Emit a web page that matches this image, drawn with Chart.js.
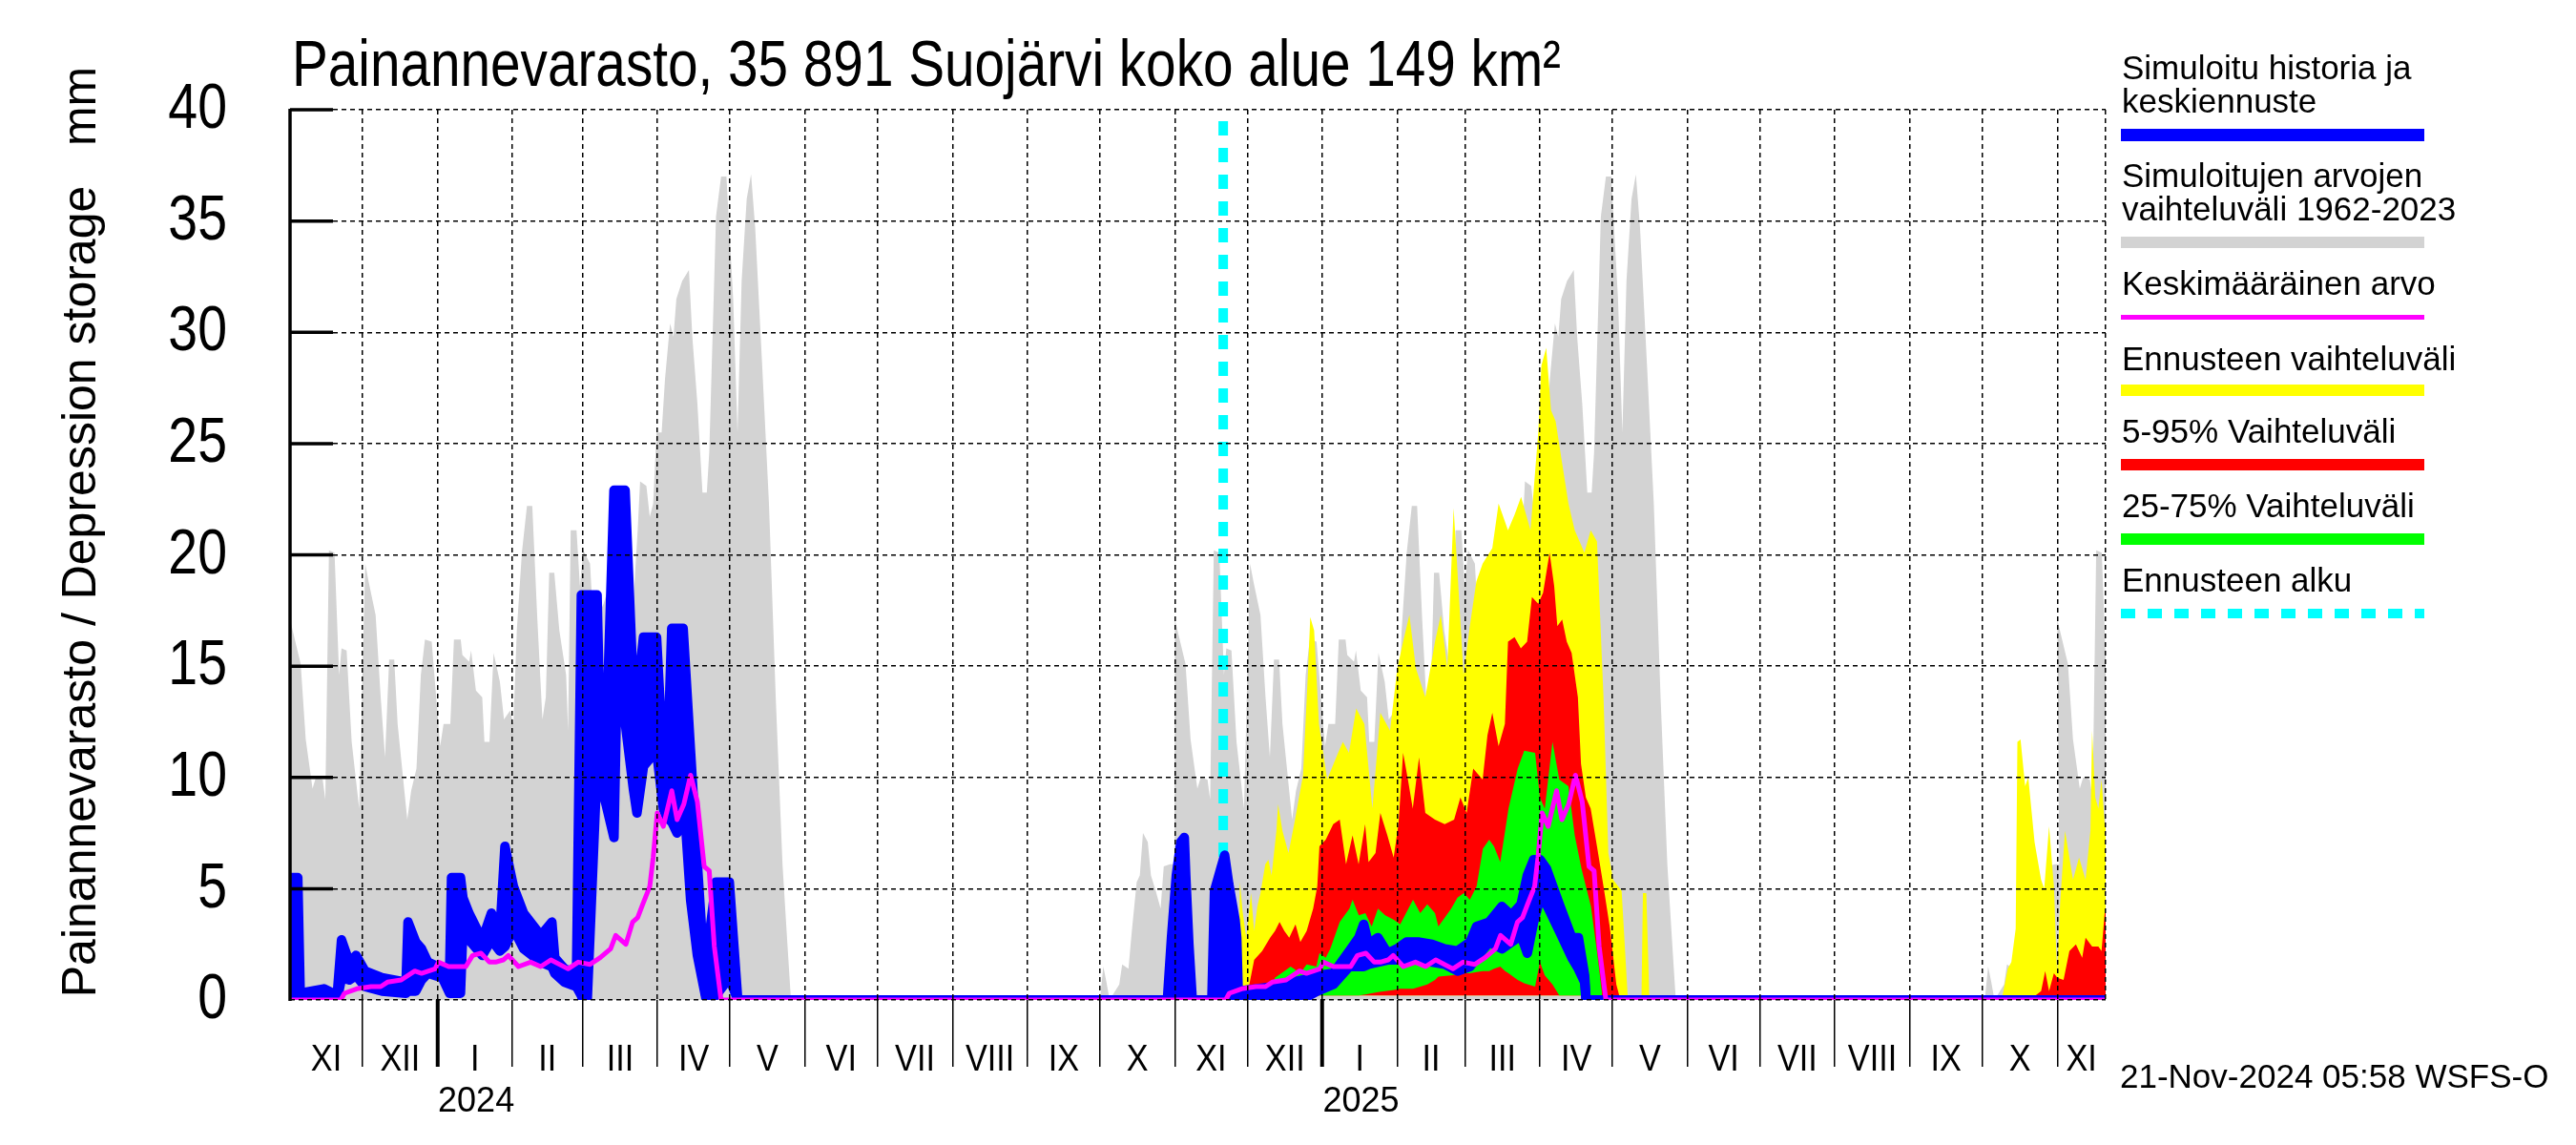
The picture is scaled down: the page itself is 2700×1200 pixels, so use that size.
<!DOCTYPE html>
<html>
<head>
<meta charset="utf-8">
<script src="https://cdn.jsdelivr.net/npm/chart.js@4.4.1/dist/chart.umd.min.js"></script>
<style>
  html, body { margin: 0; padding: 0; background: #fff; }
  canvas { display: block; }
</style>
</head>
<body>
<canvas id="chart" width="2700" height="1200" style="width:2700px;height:1200px"></canvas>
<script>
// x values are days counted from 1 Nov 2023
const monthLabels = ['XI','XII','I','II','III','IV','V','VI','VII','VIII','IX','X',
                     'XI','XII','I','II','III','IV','V','VI','VII','VIII','IX','X','XI'];
const yearLabels = ['2024', '2025'];
const axisEndDay = 751;
const forecastStartDay = 386;
const seasonStarts = [0, 366, 731];   // 1 Nov 2023, 1 Nov 2024, 1 Nov 2025

// simulated range 1962-2023 (upper edge), by day of season
const grayDays = [0, 4.4, 6.5, 9.3, 10.7, 13.5, 14.6, 16.1, 18.4, 20.3,
  21.3, 23.4, 25.5, 28.6, 31.1, 32.5, 35.4, 37.5, 39.3, 41.0,
  43.1, 44.5, 48.5, 50.1, 52.3, 54.1, 55.8, 58.6, 59.7, 62.1,
  63.5, 66.3, 67.8, 70.6, 71.3, 74.1, 74.9, 76.9, 79.5, 80.4,
  82.5, 84.2, 86.8, 88.5, 91.0, 92.4, 93.8, 95.9, 98.0, 100.2,
  102.3, 104.4, 105.8, 107.2, 109.3, 111.4, 114.2, 115.0, 116.1, 118.5,
  119.9, 121.3, 124.1, 125.5, 129.7, 131.9, 136.0, 141.7, 143.8, 144.8,
  147.4, 148.8, 150.2, 151.6, 153.7, 155.1, 157.2, 158.6, 159.8, 162.2,
  165.0, 166.4, 168.5, 170.6, 172.4, 173.4, 176.2, 178.3, 180.5, 183.3,
  185.1, 186.8, 188.9, 190.7, 192.4, 195.3, 198.1, 200.9, 203.7, 205.8,
  207.2,
  335.0, 336.4, 337.7, 339.0, 343.0, 344.2, 346.8, 348.2, 350.2, 351.5,
  352.8, 354.8, 356.1, 358.1, 360.1, 361.4, 364.0, 365.8];
const grayTop = [17.1, 15.1, 11.7, 9.5, 10.0, 9.9, 9.0, 20.2, 20.1, 14.6,
  15.8, 15.7, 11.6, 8.6, 19.6, 18.8, 17.3, 13.6, 10.9, 15.3,
  15.3, 12.4, 8.1, 9.4, 10.4, 14.6, 16.2, 16.1, 14.6, 11.4,
  12.4, 12.4, 16.2, 16.2, 15.5, 15.2, 15.7, 13.9, 13.6, 11.6,
  11.6, 15.6, 14.3, 12.6, 13.0, 12.4, 16.6, 20.1, 22.2, 22.2,
  17.1, 12.6, 13.6, 19.2, 19.2, 16.6, 14.6, 12.1, 21.1, 21.1,
  18.6, 20.2, 19.6, 16.8, 17.8, 18.6, 18.0, 17.3, 21.1, 23.3,
  23.1, 21.7, 22.3, 25.5, 25.5, 27.9, 30.4, 29.8, 31.5, 32.3,
  32.8, 29.8, 26.8, 22.8, 22.8, 24.6, 35.2, 37.0, 37.0, 31.5,
  25.5, 32.3, 36.0, 37.1, 34.7, 28.5, 22.3, 13.6, 6.1, 2.4,
  0,
  0, 1.5, 0.8, 0, 0.7, 1.6, 1.4, 3.1, 5.3, 5.6,
  7.5, 7.1, 5.6, 4.9, 4.1, 6.0, 6.1, 6.1];

// mean value, by day of season
const meanDays = [0, 21, 22.5, 27.6, 33.5, 37.5, 40.3, 46, 51.6, 54.4,
  60, 61.4, 65.6, 72.7, 75.5, 79, 82.5, 85, 88.2, 90.3,
  94.5, 99.5, 103.7, 107.9, 115, 119.2, 124.1, 128.3, 132.6, 134.7,
  138.9, 141.7, 143.8, 145.9, 148.8, 150.2, 151.9, 154.4, 157.9, 160.1,
  162.9, 165.7, 168.5, 171.3, 173.4, 175.5, 178.3, 365.8];
const meanValue = [0, 0, 0.3, 0.5, 0.6, 0.6, 0.8, 0.9, 1.3, 1.2,
  1.4, 1.7, 1.5, 1.5, 2.0, 2.1, 1.7, 1.7, 1.8, 2.0,
  1.5, 1.7, 1.5, 1.8, 1.4, 1.7, 1.6, 1.9, 2.3, 2.9,
  2.5, 3.5, 3.7, 4.3, 5.1, 6.4, 8.4, 7.8, 9.4, 8.1,
  8.8, 10.1, 8.9, 6.0, 5.8, 2.4, 0, 0];

// simulated history and median forecast (drawn as a thick band)
const blueDays = [0, 3.2, 4.2, 14, 19.5, 21.3, 24.5, 27.3, 31, 38,
  48, 48.8, 52, 54.4, 57, 63, 66, 66.8, 70.5, 71.5,
  74, 79.5, 83.3, 86.8, 88.9, 92.4, 96.6, 103.7, 108.3, 109.5,
  113.5, 118.5, 120.5, 122.7, 127, 128.3, 130.7, 134, 135, 138.6,
  142, 143.5, 146.2, 151.6, 154.4, 155.8, 157.9, 160.1, 162.6, 165.7,
  168.5, 172, 173, 176.2, 181.7, 185.2, 362.9, 364.6, 366.6, 368.5,
  369.9, 370.5, 371.8, 373.2, 381.3, 382.4, 385, 386.6, 388.3, 390.9,
  391.6, 392.2, 400, 407, 412.6, 419, 425, 431.6, 438.2, 442.1,
  444.1, 446.1, 450, 454, 457.9, 461.8, 467.1, 472.4, 477.6, 482.9,
  488.1, 490.8, 496, 501.3, 505.2, 509.2, 511.8, 514.4, 517.1, 519.7,
  525, 530.2, 532.9, 535.5, 536.1, 751];
const blueTop = [5.5, 5.5, 0.3, 0.5, 0.2, 2.7, 1.7, 2.0, 1.3, 1.0,
  0.8, 3.5, 2.6, 2.3, 1.7, 1.4, 1.2, 5.5, 5.5, 4.6,
  3.9, 2.7, 3.9, 3.0, 6.9, 5.1, 3.9, 2.9, 3.5, 1.9,
  1.4, 1.2, 18.2, 18.2, 18.2, 11.8, 11.3, 22.9, 22.9, 22.9,
  13.9, 13.6, 16.3, 16.3, 10.5, 9.4, 16.7, 16.7, 16.7, 11.1,
  6.1, 0.2, 2.5, 5.3, 5.3, 0, 0, 2.8, 5.6, 7.1,
  7.3, 5.6, 2.5, 0, 0, 4.9, 5.9, 6.5, 5.2, 3.6,
  2.8, 0.4, 0.5, 0.6, 0.75, 0.9, 1.1, 1.2, 2.2, 2.8,
  3.4, 2.5, 2.8, 2.1, 2.3, 2.6, 2.6, 2.5, 2.3, 2.2,
  2.6, 3.3, 3.5, 4.2, 3.8, 4.3, 5.6, 6.3, 6.3, 5.9,
  4.3, 2.8, 2.8, 1.1, 0, 0];
const blueBottom = [0.2, 0.2, 0, 0.1, 0, 1.0, 0.9, 1.1, 0.6, 0.4,
  0.3, 0.4, 0.4, 0.9, 1.2, 1.0, 0.3, 0.3, 0.3, 3.2,
  2.7, 2.0, 2.7, 2.2, 2.4, 3.2, 2.3, 1.7, 1.5, 1.2,
  0.8, 0.6, 0.2, -0.6, 10.5, 9.8, 8.8, 7.3, 13.0, 12.5,
  9.5, 8.4, 10.5, 11.2, 8.6, 8.2, 8.0, 7.5, 9.5, 4.5,
  2.0, 0.1, 0.1, 0.2, 1.0, 0, 0, 0, 0, 0,
  0, 0, 0, 0, 0, 0, 0, 0, 0, 0,
  0, -0.1, -0.1, -0.1, 0, 0.05, 0.4, 0.7, 1.5, 1.5,
  1.5, 1.6, 1.7, 1.8, 1.8, 1.8, 1.8, 1.7, 1.6, 1.3,
  1.5, 1.9, 2.6, 2.3, 2.6, 2.9, 2.1, 3.5, 4.6, 4.3,
  3.1, 1.9, 1.4, 0.8, 0, 0];

// forecast range (max)
const yellowDays = [392.3, 392.9, 394, 395.5, 397.5, 398.8, 400.1, 401.4, 403.4, 404.7,
  406, 408, 408.7, 410.5, 413, 415.7, 419, 421, 422, 423.6,
  425.6, 429, 433.5, 435.5, 438, 441, 444.4, 447.7, 451, 455,
  458, 460.4, 463, 465.7, 469.6, 473.6, 476, 478.7, 481.3, 482.6,
  485.4, 488, 490.7, 493.3, 497.3, 499.9, 503.8, 506.5, 509.2, 513.1,
  516.3, 517.6, 519.6, 521.6, 523.5, 526.2, 528.8, 531.4, 535.4, 538,
  540.6, 543.3, 545.3, 547.3, 550.8, 553.4, 559, 559.6, 561, 562.3,
  600, 708, 710.5, 712, 713.8, 714.5, 715.8, 717.7, 719, 721.6,
  724.3, 725.6, 727.6, 729.6, 730.9, 732.2, 734.2, 737.5, 740, 742.7,
  744.7, 745.4, 746.7, 748, 749.3, 750.6, 751];
const yellowTop = [0, 5.3, 4.0, 2.8, 4.8, 3.1, 4.2, 4.8, 6.1, 6.3,
  5.6, 7.6, 8.8, 7.6, 6.6, 8.1, 10.1, 14.6, 17.2, 16.6,
  12.4, 9.9, 11.1, 11.6, 11.1, 13.1, 12.4, 8.6, 12.9, 12.1,
  14.9, 16.1, 17.3, 14.9, 13.6, 16.1, 17.3, 14.9, 22.1, 19.8,
  14.6, 16.8, 18.8, 19.6, 20.3, 22.3, 21.1, 21.8, 22.6, 21.1,
  25.5, 28.5, 29.3, 26.5, 26.0, 24.1, 22.3, 21.1, 20.1, 21.1,
  20.6, 13.6, 6.6, 5.4, 4.9, 0, 0, 4.8, 4.8, 0,
  null, 0, 1.4, 1.7, 3.2, 11.6, 11.7, 9.6, 10.0, 7.1,
  5.4, 5.0, 7.8, 5.1, 1.2, 4.4, 7.6, 5.4, 6.4, 5.4,
  7.6, 12.1, 9.1, 8.6, 9.9, 7.9, 7.9];

// 5-95 % range (upper edge)
const redDays = [392.8, 396.8, 398.8, 402.1, 405.4, 407.4, 409.3, 411.3, 413.3, 415.9,
  417.9, 420.5, 423.2, 424.9, 425.8, 428.4, 431.5, 434.2, 436.8, 439.5,
  442, 444.7, 446.1, 449, 451, 453.9, 456.5, 458.5, 460.4, 462.4,
  464.4, 467, 469.6, 473.6, 477.6, 481.5, 484.1, 486.7, 489.4, 493.3,
  495.3, 497.3, 499.9, 502.5, 503.8, 506.5, 509.1, 511.7, 513.7, 516.3,
  518.3, 521, 522.9, 524.2, 526.2, 528.1, 530.1, 532.7, 534, 536,
  538, 540.6, 543.3, 546, 548.6, 549.8, 600, 722, 724.3, 726,
  727.6, 729.6, 731, 733.6, 736, 738.7, 741.3, 742.7, 745.4, 748,
  749.3, 750.6, 751];
const redTop = [0.5, 0.7, 1.8, 2.2, 2.8, 3.1, 3.5, 3.1, 2.8, 3.4,
  2.6, 3.1, 4.1, 5.1, 6.9, 7.2, 7.9, 8.1, 6.1, 7.4,
  6.1, 7.9, 6.2, 6.6, 8.4, 7.4, 6.4, 7.9, 11.1, 9.9,
  8.6, 10.9, 8.4, 8.1, 7.9, 8.1, 9.1, 8.4, 10.4, 9.9,
  11.9, 12.9, 11.4, 12.4, 16.1, 16.3, 15.8, 16.1, 18.1, 17.8,
  18.3, 20.1, 18.6, 16.8, 17.1, 16.1, 15.6, 13.6, 10.6, 9.1,
  8.6, 6.9, 5.1, 3.2, 0.7, 0.2, null, 0.2, 0.4, 1.3,
  0.4, 1.2, 1.0, 0.9, 2.2, 2.5, 1.9, 2.8, 2.4, 2.4,
  2.2, 3.9, 3.9];

// 25-75 % range
const greenDays = [405, 407.4, 411.3, 413.9, 417.9, 420.5, 424.5, 425.8, 428.4, 430.3,
  434.2, 438.2, 439.5, 442.1, 444.8, 447.4, 450, 453, 456.6, 459.2,
  464.5, 467.5, 470.4, 473.6, 475, 480.3, 482.9, 485.5, 488, 490.8,
  493.4, 496, 498, 500.6, 502.6, 504, 507.8, 510.5, 515, 517,
  519, 522.2, 525, 528.8, 531.4, 534.2, 538.1, 540.7, 542.7];
const greenTop = [0.4, 1.0, 1.3, 1.5, 1.2, 1.6, 1.5, 2.1, 1.9, 2.3,
  3.5, 4.1, 4.5, 3.8, 3.9, 3.3, 4.1, 3.8, 3.6, 3.4,
  4.5, 3.9, 4.3, 3.9, 3.3, 4.1, 4.6, 4.8, 4.5, 5.1,
  6.8, 7.2, 6.9, 6.2, 7.6, 8.6, 10.4, 11.2, 11.1, 9.1,
  8.6, 11.6, 9.9, 9.6, 7.4, 5.9, 4.2, 2.1, 0.3];
const greenBottom = [0.2, 0.2, 0.2, 0.2, 0.2, 0.2, 0.2, 0.2, 0.2, 0.2,
  0.2, 0.2, 0.2, 0.2, 0.25, 0.3, 0.35, 0.4, 0.45, 0.5,
  0.5, 0.6, 0.7, 0.9, 1.05, 1.1, 1.15, 1.2, 1.2, 1.25,
  1.3, 1.3, 1.4, 1.5, 1.3, 1.2, 0.9, 0.75, 0.6, 1.7,
  1.1, 0.7, 0.2, 0.2, 0.2, 0.2, 0.2, 0.2, 0.2];

const bandFloor = 0.2;

const titleText = 'Painannevarasto, 35 891 Suojärvi koko alue 149 km²';
const yTitleText = 'Painannevarasto / Depression storage   mm';
const stampText = '21-Nov-2024 05:58 WSFS-O';

// month starts as day numbers
const origin = Date.UTC(2023, 10, 1);
const dayOf = (y, m, d = 1) => Math.round((Date.UTC(y, m, d) - origin) / 864e5);
const monthStarts = monthLabels.map((_, i) => dayOf(2023, 10 + i));
const janDays = [dayOf(2024, 0), dayOf(2025, 0)];
const yearLabelDays = [dayOf(2024, 0, 17), dayOf(2025, 0, 17)];

function toPoints(days, values, offset = 0) {
  return days.map((d, i) => ({ x: d + offset, y: values[i] }));
}
function seasonal(days, values) {
  return seasonStarts.flatMap(o => toPoints(days, values, o));
}

const FONT = '"Liberation Sans", Arial, Helvetica, sans-serif';

// condensed text: draw with a horizontal squeeze
function narrowText(ctx, text, x, y, sx) {
  ctx.save();
  ctx.translate(x, y);
  ctx.scale(sx, 1);
  ctx.fillText(text, 0, 0);
  ctx.restore();
}

const decorations = {
  id: 'decorations',
  afterDraw(chart) {
    const { ctx, chartArea: area, scales: { x, y } } = chart;
    ctx.save();
    ctx.fillStyle = '#000';
    ctx.strokeStyle = '#000';

    // left axis line
    ctx.lineWidth = 3.5;
    ctx.beginPath();
    ctx.moveTo(area.left, area.top - 1);
    ctx.lineTo(area.left, area.bottom + 1);
    ctx.stroke();

    // title, condensed to the original width
    ctx.font = '68px ' + FONT;
    ctx.textAlign = 'left';
    ctx.textBaseline = 'alphabetic';
    const tw = ctx.measureText(titleText).width;
    narrowText(ctx, titleText, area.left + 2, 90, 1330 / tw);

    // y tick labels and inward tick marks
    ctx.font = '66px ' + FONT;
    ctx.textAlign = 'right';
    ctx.textBaseline = 'middle';
    y.ticks.forEach(t => {
      const py = y.getPixelForValue(t.value);
      narrowText(ctx, String(t.value), 238, py + 1, 0.84);
      if (t.value > 0) {
        ctx.beginPath();
        ctx.moveTo(area.left, py);
        ctx.lineTo(area.left + 45, py);
        ctx.stroke();
      }
    });

    // y axis title
    ctx.save();
    ctx.translate(100, (area.top + area.bottom) / 2 - 24);
    ctx.rotate(-Math.PI / 2);
    ctx.font = '50px ' + FONT;
    ctx.textAlign = 'center';
    ctx.textBaseline = 'alphabetic';
    ctx.fillText(yTitleText, 0, 0);
    ctx.restore();

    // month and year labels
    ctx.font = '38px ' + FONT;
    ctx.textAlign = 'center';
    ctx.textBaseline = 'alphabetic';
    monthLabels.forEach((lab, i) => {
      const s = monthStarts[i];
      const e = Math.min(i + 1 < monthStarts.length ? monthStarts[i + 1] : axisEndDay, axisEndDay);
      narrowText(ctx, lab, x.getPixelForValue((s + e) / 2), 1122, 0.9);
    });
    ctx.font = '36px ' + FONT;
    yearLabels.forEach((lab, i) => {
      ctx.fillText(lab, x.getPixelForValue(yearLabelDays[i]), 1165);
    });

    // timestamp
    ctx.font = '35px ' + FONT;
    ctx.textAlign = 'left';
    ctx.fillText(stampText, 2222, 1140);

    // legend
    const ds = chart.data.datasets;
    const items = [
      { d: ds[1], lines: ['Simuloitu historia ja', 'keskiennuste'], base: 83, bar: 141.5, h: 13 },
      { d: ds[8], lines: ['Simuloitujen arvojen', 'vaihteluväli 1962-2023'], base: 196, bar: 254, h: 12 },
      { d: ds[0], lines: ['Keskimääräinen arvo'], base: 309, bar: 332.5, h: 5 },
      { d: ds[6], lines: ['Ennusteen vaihteluväli'], base: 388, bar: 409, h: 12 },
      { d: ds[5], lines: ['5-95% Vaihteluväli'], base: 464, bar: 487, h: 12 },
      { d: ds[3], lines: ['25-75% Vaihteluväli'], base: 542, bar: 565, h: 12 },
      { d: ds[7], lines: ['Ennusteen alku'], base: 620, bar: 643, h: 10, dash: true }
    ];
    ctx.font = '35px ' + FONT;
    ctx.textAlign = 'left';
    items.forEach(it => {
      ctx.fillStyle = '#000';
      it.lines.forEach((t, k) => ctx.fillText(t, 2224, it.base + k * 35));
      ctx.beginPath();
      ctx.strokeStyle = it.d.legendColor;
      ctx.lineWidth = it.h;
      ctx.setLineDash(it.dash ? [15, 13] : []);
      ctx.moveTo(2223, it.bar);
      ctx.lineTo(2541, it.bar);
      ctx.stroke();
    });
    ctx.restore();
  }
};

const BLUE = '#0000ff', GRAY = '#d3d3d3', MAGENTA = '#ff00ff',
      YELLOW = '#ffff00', RED = '#ff0000', GREEN = '#00ff00', CYAN = '#00ffff';

new Chart(document.getElementById('chart'), {
  type: 'line',
  data: {
    datasets: [
      { label: 'Keskimääräinen arvo', data: seasonal(meanDays, meanValue),
        borderColor: MAGENTA, legendColor: MAGENTA, borderWidth: 5, fill: false, order: 1 },
      { label: 'Simuloitu historia ja keskiennuste', data: toPoints(blueDays, blueTop),
        borderColor: BLUE, backgroundColor: BLUE, legendColor: BLUE, borderWidth: 10,
        fill: 2, order: 2 },
      { label: 'blue lower', data: toPoints(blueDays, blueBottom),
        borderColor: BLUE, borderWidth: 10, fill: false, order: 3 },
      { label: '25-75% Vaihteluväli', data: toPoints(greenDays, greenTop),
        borderColor: GREEN, backgroundColor: GREEN, legendColor: GREEN, borderWidth: 0,
        fill: 4, order: 4 },
      { label: 'green lower', data: toPoints(greenDays, greenBottom),
        borderColor: GREEN, borderWidth: 0, fill: false, order: 5 },
      { label: '5-95% Vaihteluväli', data: toPoints(redDays, redTop),
        borderColor: RED, backgroundColor: RED, legendColor: RED, borderWidth: 0,
        fill: { value: bandFloor }, order: 6 },
      { label: 'Ennusteen vaihteluväli', data: toPoints(yellowDays, yellowTop),
        borderColor: YELLOW, backgroundColor: YELLOW, legendColor: YELLOW, borderWidth: 0,
        fill: { value: bandFloor }, order: 7 },
      { label: 'Ennusteen alku', data: [{ x: forecastStartDay, y: 40 }, { x: forecastStartDay, y: 0 }],
        borderColor: CYAN, legendColor: CYAN, borderWidth: 10, borderDash: [15, 13],
        borderDashOffset: 16, borderCapStyle: 'butt', fill: false, order: 8 },
      { label: 'Simuloitujen arvojen vaihteluväli 1962-2023', data: seasonal(grayDays, grayTop),
        borderColor: GRAY, backgroundColor: GRAY, legendColor: GRAY, borderWidth: 0,
        fill: 'origin', order: 9 }
    ]
  },
  options: {
    responsive: false,
    devicePixelRatio: 1,
    animation: false,
    spanGaps: false,
    elements: {
      point: { radius: 0, hoverRadius: 0 },
      line: { tension: 0, borderJoinStyle: 'round', borderCapStyle: 'round' }
    },
    layout: { padding: { left: 304, top: 115, right: 493, bottom: 82 } },
    plugins: {
      legend: { display: false },
      title: { display: false },
      tooltip: { enabled: false }
    },
    scales: {
      x: {
        type: 'linear',
        min: 0,
        max: axisEndDay,
        afterBuildTicks: scale => {
          scale.ticks = monthStarts.slice(1).concat([axisEndDay]).map(v => ({ value: v }));
        },
        afterFit: scale => { scale.height = 70; },
        ticks: { display: false },
        border: { display: false, dash: [5, 4] },
        grid: {
          z: 1,
          color: '#000',
          lineWidth: 1.5,
          drawTicks: true,
          tickLength: 70,
          tickColor: c => (c.tick && c.tick.value === axisEndDay) ? 'rgba(0,0,0,0)' : '#000',
          tickWidth: c => (c.tick && janDays.includes(c.tick.value)) ? 4 : 1.5
        }
      },
      y: {
        min: 0,
        max: 40,
        ticks: { display: false, stepSize: 5 },
        afterFit: scale => { scale.width = 0; },
        border: { display: false, dash: [5, 4] },
        grid: { z: 1, color: '#000', lineWidth: 1.5, drawTicks: false }
      }
    }
  },
  plugins: [decorations]
});
</script>
</body>
</html>
